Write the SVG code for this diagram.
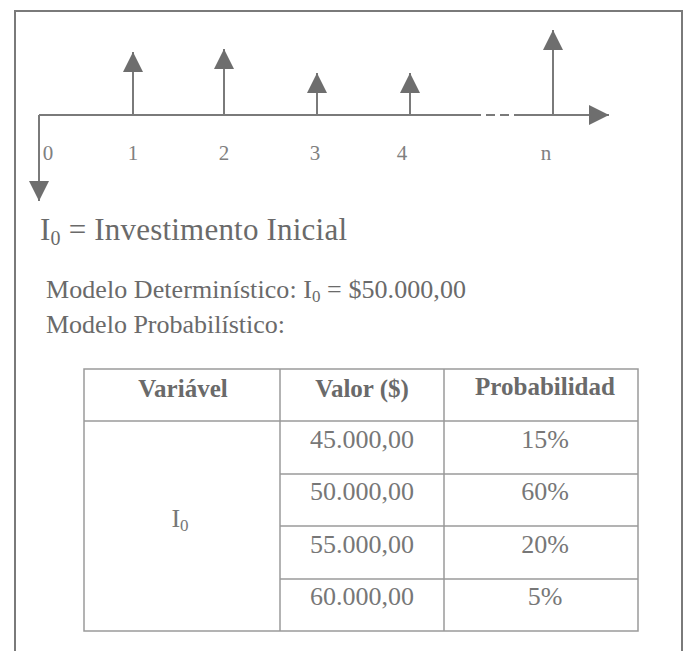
<svg xmlns="http://www.w3.org/2000/svg" width="686" height="651" viewBox="0 0 686 651">
<style>
text{font-family:"Liberation Serif","Times New Roman",serif;fill:#6a6a6a}
.ln{stroke:#7a7a7a;stroke-width:2;fill:none}
.tb{stroke:#9a9a9a;stroke-width:1.5;fill:none}
.lab{font-size:21px;text-anchor:middle;fill:#808080}
.hd{font-size:25px;font-weight:bold;text-anchor:middle}
.cv{font-size:26px;text-anchor:middle;fill:#777}
</style>
<defs>
<marker id="ah" viewBox="0 0 20 20" refX="20" refY="10" markerWidth="20" markerHeight="20" markerUnits="userSpaceOnUse" orient="auto">
<path d="M0,0 L20,10 L0,20 Z" fill="#6e6e6e"/>
</marker>
</defs>
<rect width="686" height="651" fill="#ffffff"/>
<g id="frame"><path class="ln" d="M15,651 V11 H682 V651"/></g>
<g id="connectors">
<path class="ln" d="M39,115 H472"/>
<path class="ln" d="M472,115 H520" stroke-dasharray="9 5"/>
<path class="ln" d="M520,115 H609" marker-end="url(#ah)"/>
<path class="ln" d="M39,115 V201" marker-end="url(#ah)"/>
<path class="ln" d="M133,115 V52" marker-end="url(#ah)"/>
<path class="ln" d="M224,115 V49" marker-end="url(#ah)"/>
<path class="ln" d="M317,115 V73" marker-end="url(#ah)"/>
<path class="ln" d="M410,115 V73" marker-end="url(#ah)"/>
<path class="ln" d="M553,115 V30" marker-end="url(#ah)"/>
</g>
<g id="labels">
<text class="lab" x="48" y="160">0</text>
<text class="lab" x="133" y="160">1</text>
<text class="lab" x="224" y="160">2</text>
<text class="lab" x="315" y="160">3</text>
<text class="lab" x="402" y="160">4</text>
<text class="lab" x="546" y="160">n</text>
</g>
<g id="title"><text x="40" y="240" font-size="31" textLength="307">I<tspan font-size="20" dy="5">0</tspan><tspan dy="-5"> = Investimento Inicial</tspan></text></g>
<g id="det"><text x="46" y="298" font-size="26" textLength="420">Modelo Determinístico: I<tspan font-size="17" dy="4">0</tspan><tspan dy="-4"> = $50.000,00</tspan></text></g>
<g id="prob"><text x="46" y="333" font-size="26">Modelo Probabilístico:</text></g>
<g id="table">
<rect class="tb" x="84" y="369" width="554" height="262"/>
<path class="tb" d="M84,421 H638 M280,369 V631 M444,369 V631 M280,474 H638 M280,526 H638 M280,579 H638"/>
<text class="hd" x="183" y="397">Variável</text>
<text class="hd" x="362" y="397">Valor ($)</text>
<text class="hd" x="545" y="395">Probabilidad</text>
<text class="cv" x="180" y="527">I<tspan font-size="17" dy="4">0</tspan></text>
<text class="cv" x="362" y="448">45.000,00</text>
<text class="cv" x="362" y="500">50.000,00</text>
<text class="cv" x="362" y="553">55.000,00</text>
<text class="cv" x="362" y="605">60.000,00</text>
<text class="cv" x="545" y="448">15%</text>
<text class="cv" x="545" y="500">60%</text>
<text class="cv" x="545" y="553">20%</text>
<text class="cv" x="545" y="605">5%</text>
</g>
</svg>
